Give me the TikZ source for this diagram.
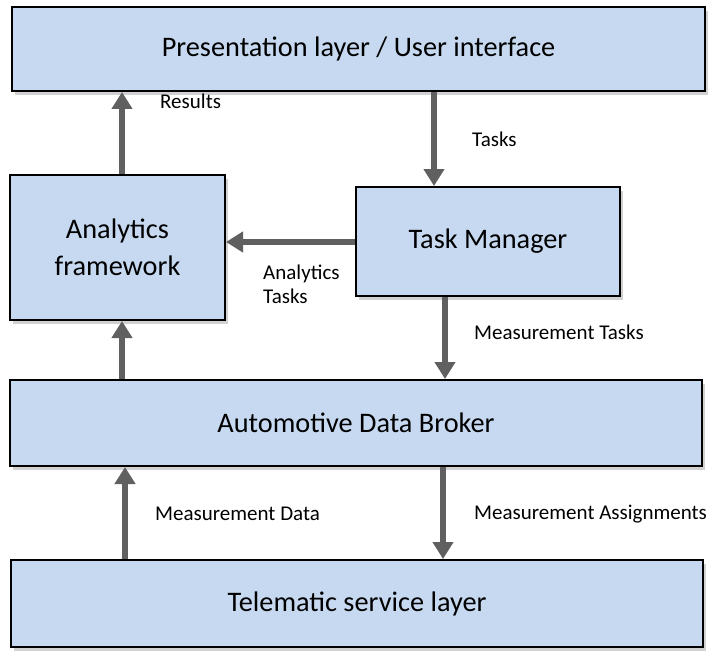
\documentclass[tikz,border=0pt]{standalone}
\usepackage{fontspec}
\setmainfont{Carlito}
\usetikzlibrary{arrows.meta,shadows}
\definecolor{boxfill}{HTML}{C6D9F1}
\definecolor{arrgray}{HTML}{606060}
\tikzset{
  layerbox/.style={draw=black, line width=2pt, fill=boxfill, inner sep=0pt,
    drop shadow={shadow xshift=3pt, shadow yshift=-4pt, opacity=0.3, fill=black!60},
    font=\fontsize{28.3}{37}\selectfont, align=center},
  flow/.style={draw=arrgray, line width=6pt, -{Triangle[width=20pt,length=17pt]}},
  lbl/.style={font=\fontsize{21}{24}\selectfont, anchor=west, inner sep=0pt, align=left}
}
\begin{document}
\begin{tikzpicture}[x=1pt,y=-1pt]
\useasboundingbox (0,0) rectangle (712,658);
\node[layerbox, minimum width=693pt, minimum height=84pt] (pres) at (358.5,49) {Presentation layer / User interface};
\node[layerbox, minimum width=215pt, minimum height=145pt] (ana) at (117.5,247.5) {Analytics\\framework};
\node[layerbox, minimum width=264pt, minimum height=109pt] (task) at (488,241.5) {Task Manager};
\node[layerbox, minimum width=692pt, minimum height=86pt] (adb) at (356,423) {Automotive Data Broker};
\node[layerbox, minimum width=692pt, minimum height=87pt] (tel) at (357,603.5) {Telematic service layer};

\draw[flow] (ana.north -| 122,0) -- (pres.south -| 122,0);
\draw[flow] (pres.south -| 434,0) -- (task.north -| 434,0);
\draw[flow] (task.west |- 0,242) -- (ana.east |- 0,242);
\draw[flow] (adb.north -| 122,0) -- (ana.south -| 122,0);
\draw[flow] (task.south -| 445,0) -- (adb.north -| 445,0);
\draw[flow] (tel.north -| 125,0) -- (adb.south -| 125,0);
\draw[flow] (adb.south -| 443,0) -- (tel.north -| 443,0);

\node[lbl] (lres) at (160,101) {Results};
\node[lbl] (ltask) at (472,139) {Tasks};
\node[lbl] (lana) at (263,284) {Analytics\\Tasks};
\node[lbl] (lmt) at (474,332) {Measurement Tasks};
\node[lbl] (lmd) at (155,514) {Measurement Data};
\node[lbl] (lma) at (474,514) {Measurement Assignments};
\end{tikzpicture}
\end{document}
